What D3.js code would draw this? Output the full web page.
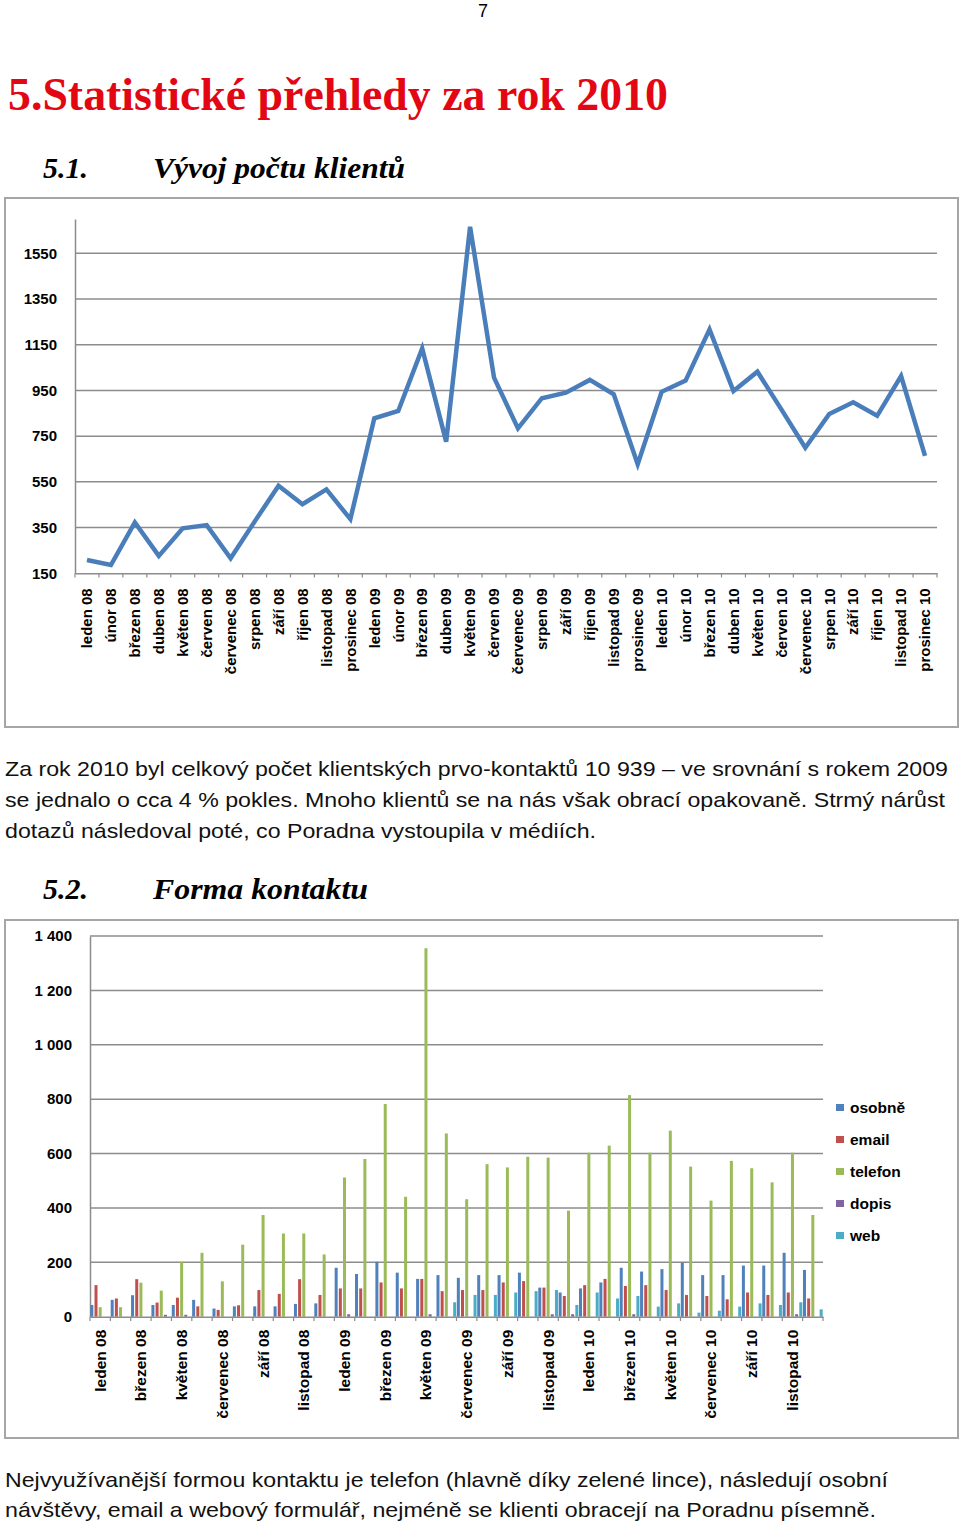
<!DOCTYPE html>
<html><head><meta charset="utf-8">
<script src="https://cdn.jsdelivr.net/npm/d3@7"></script>
<style>
html,body{margin:0;padding:0;background:#fff;}
svg{display:block;}
</style></head>
<body>
<svg id="page" width="960" height="1526"></svg>
<script>
// ---------- DATA ----------
const months = ["leden 08","únor 08","březen 08","duben 08","květen 08","červen 08","červenec 08","srpen 08","září 08","říjen 08","listopad 08","prosinec 08",
"leden 09","únor 09","březen 09","duben 09","květen 09","červen 09","červenec 09","srpen 09","září 09","říjen 09","listopad 09","prosinec 09",
"leden 10","únor 10","březen 10","duben 10","květen 10","červen 10","červenec 10","srpen 10","září 10","říjen 10","listopad 10","prosinec 10"];

const clients = [208,186,373,226,347,361,216,376,533,452,517,387,
828,860,1134,726,1666,1006,784,916,940,996,933,627,
944,993,1217,947,1032,867,699,847,898,839,1013,664];

const lineTicks = [150,350,550,750,950,1150,1350,1550];

const seriesNames = ["osobně","email","telefon","dopis","web"];
const osobne  = [43,62,79,43,43,62,30,38,38,38,47,49,180,157,202,162,139,153,143,153,153,162,107,89,104,126,180,166,175,199,153,153,188,188,235,172];
const email   = [116,67,138,52,70,38,25,42,98,84,138,80,104,104,126,104,139,94,98,98,126,131,107,76,116,139,113,116,98,80,76,64,89,80,89,67];
const telefon = [35,35,125,96,202,235,130,265,374,306,306,229,512,580,782,441,1355,674,432,561,549,588,585,390,603,629,815,603,684,552,427,573,546,494,603,374];
const dopis   = [0,0,0,7,7,0,0,0,0,0,0,0,9,0,0,0,9,0,0,0,0,0,9,9,0,0,9,0,0,0,0,0,0,0,9,0];
const web     = [0,0,0,0,0,0,0,0,0,0,0,0,0,0,0,0,0,53,80,80,89,94,98,43,89,67,76,37,49,15,22,37,49,43,53,27];
const barTicks = [0,200,400,600,800,1000,1200,1400];
const seriesColors = ["#4F81BD","#C0504D","#9BBB59","#8064A2","#4BACC6"];

// ---------- PAGE ----------
const svg = d3.select("#page");
const sans = "'Liberation Sans', Arial, sans-serif";
const serif = "'Liberation Serif', 'DejaVu Serif', serif";

svg.append("text").attr("x",483).attr("y",17).attr("text-anchor","middle")
  .attr("font-family",sans).attr("font-size",18).text("7");

svg.append("text").attr("x",8).attr("y",110).attr("font-family",serif)
  .attr("font-weight","bold").attr("font-size",46).attr("fill","#e30613")
  .attr("textLength",660).attr("lengthAdjust","spacingAndGlyphs")
  .text("5.Statistické přehledy za rok 2010");

function heading(num, label, y){
  svg.append("text").attr("x",43).attr("y",y).attr("font-family",serif)
    .attr("font-weight","bold").attr("font-style","italic").attr("font-size",30)
    .attr("textLength",45).attr("lengthAdjust","spacingAndGlyphs").text(num);
  return svg.append("text").attr("x",153).attr("y",y).attr("font-family",serif)
    .attr("font-weight","bold").attr("font-style","italic").attr("font-size",30)
    .text(label);
}
heading("5.1.","Vývoj počtu klientů",178).attr("textLength",252).attr("lengthAdjust","spacingAndGlyphs");
heading("5.2.","Forma kontaktu",899).attr("textLength",215).attr("lengthAdjust","spacingAndGlyphs");

function para(lines){
  lines.forEach(l=>{
    const t = svg.append("text").attr("x",5).attr("y",l.y).attr("font-family",sans)
      .attr("font-size",21).attr("fill","#111").text(l.t);
    if(l.w) t.attr("textLength",l.w).attr("lengthAdjust","spacingAndGlyphs");
  });
}
para([
 {t:"Za rok 2010 byl celkový počet klientských prvo-kontaktů 10 939 – ve srovnání s rokem 2009",y:776,w:943},
 {t:"se jednalo o cca 4 % pokles. Mnoho klientů se na nás však obrací opakovaně. Strmý nárůst",y:807,w:940},
 {t:"dotazů následoval poté, co Poradna vystoupila v médiích.",y:838,w:591}
]);
para([
 {t:"Nejvyužívanější formou kontaktu je telefon (hlavně díky zelené lince), následují osobní",y:1487,w:883},
 {t:"návštěvy, email a webový formulář, nejméně se klienti obracejí na Poradnu písemně.",y:1517,w:871}
]);

// ---------- CHART 1: line ----------
svg.append("rect").attr("x",5).attr("y",198).attr("width",953).attr("height",529)
  .attr("fill","none").attr("stroke","#a6a6a6").attr("stroke-width",2);

const g1 = svg.append("g");
const x1 = d3.scaleBand().domain(months).range([75,937]).padding(0);
const y1 = d3.scaleLinear().domain([150,1700]).range([573.3,219]);

g1.append("g").selectAll("line").data(lineTicks.slice(1)).join("line")
  .attr("x1",75).attr("x2",937).attr("y1",d=>y1(d)).attr("y2",d=>y1(d))
  .attr("stroke","#8c8c8c").attr("stroke-width",1.5);

const yAx1 = g1.append("g").attr("transform","translate(75,0)")
  .call(d3.axisLeft(y1).tickValues(lineTicks).tickSize(0).tickPadding(18).tickFormat(d3.format("d")));
yAx1.select(".domain").attr("stroke","#8c8c8c").attr("stroke-width",1.5);
yAx1.selectAll("text").attr("font-family",sans).attr("font-weight","bold")
  .attr("font-size",15).attr("fill","#000");

const xAx1 = g1.append("g").attr("transform","translate(0,573.3)")
  .call(d3.axisBottom(x1).tickSize(0).tickFormat(d=>d));
xAx1.select(".domain").attr("stroke","#8c8c8c").attr("stroke-width",1.5);
xAx1.selectAll("text").attr("font-family",sans).attr("font-weight","bold")
  .attr("font-size",15).attr("fill","#000")
  .attr("transform","rotate(-90)").attr("text-anchor","end")
  .attr("x",-15).attr("y",0).attr("dy","0.35em");
g1.append("g").selectAll("line").data(months.concat(["end"])).join("line")
  .attr("x1",(d,i)=>75+i*x1.step()).attr("x2",(d,i)=>75+i*x1.step())
  .attr("y1",573.3).attr("y2",577.5).attr("stroke","#8c8c8c").attr("stroke-width",1.2);

const line = d3.line().x((d,i)=>x1(months[i])+x1.bandwidth()/2).y(d=>y1(d));
g1.append("path").datum(clients).attr("d",line).attr("fill","none")
  .attr("stroke","#4A7EBB").attr("stroke-width",4.5).attr("stroke-linejoin","miter");

// ---------- CHART 2: grouped bars ----------
svg.append("rect").attr("x",5).attr("y",920).attr("width",953).attr("height",518)
  .attr("fill","none").attr("stroke","#a6a6a6").attr("stroke-width",2);

const g2 = svg.append("g");
const x0 = d3.scaleBand().domain(months).range([90,823]).padding(0);
const xs = d3.scaleBand().domain(seriesNames).range([0,x0.bandwidth()]).paddingInner(0.28).paddingOuter(0.08);
const y2 = d3.scaleLinear().domain([0,1400]).range([1316.7,936]);
const fmt = d3.formatLocale({decimal:",",thousands:" ",grouping:[3],currency:["",""]}).format(",");

g2.append("g").selectAll("line").data(barTicks.slice(1)).join("line")
  .attr("x1",90).attr("x2",823).attr("y1",d=>y2(d)).attr("y2",d=>y2(d))
  .attr("stroke","#8c8c8c").attr("stroke-width",1.5);

const yAx2 = g2.append("g").attr("transform","translate(90,0)")
  .call(d3.axisLeft(y2).tickValues(barTicks).tickSize(0).tickPadding(18).tickFormat(fmt));
yAx2.select(".domain").attr("stroke","#8c8c8c").attr("stroke-width",1.5);
yAx2.selectAll("text").attr("font-family",sans).attr("font-weight","bold")
  .attr("font-size",15).attr("fill","#000");

const seriesData = [osobne,email,telefon,dopis,web];
const groups = g2.append("g").selectAll("g").data(months).join("g")
  .attr("transform",d=>`translate(${x0(d)},0)`);
groups.selectAll("rect").data((m,i)=>seriesNames.map((s,k)=>({s,k,v:seriesData[k][i]})))
  .join("rect")
  .attr("x",d=>xs(d.s)).attr("width",xs.bandwidth())
  .attr("y",d=>y2(d.v)).attr("height",d=>y2(0)-y2(d.v))
  .attr("fill",d=>seriesColors[d.k]);

const xAx2 = g2.append("g").attr("transform","translate(0,1316.7)")
  .call(d3.axisBottom(x0).tickSize(0).tickFormat((d,i)=> i%2===0 ? d : ""));
xAx2.select(".domain").attr("stroke","#8c8c8c").attr("stroke-width",1.5);
xAx2.selectAll("text").attr("font-family",sans).attr("font-weight","bold")
  .attr("font-size",15.5).attr("fill","#000")
  .attr("transform","rotate(-90)").attr("text-anchor","end")
  .attr("x",-13).attr("y",0).attr("dy","0.35em");
g2.append("g").selectAll("line").data(months.concat(["end"])).join("line")
  .attr("x1",(d,i)=>90+i*x0.step()).attr("x2",(d,i)=>90+i*x0.step())
  .attr("y1",1316.7).attr("y2",1321).attr("stroke","#8c8c8c").attr("stroke-width",1.2);

// legend
const leg = g2.append("g").selectAll("g").data(seriesNames).join("g")
  .attr("transform",(d,i)=>`translate(836,${1108+i*32})`);
leg.append("rect").attr("x",0).attr("y",-4).attr("width",8).attr("height",7)
  .attr("fill",(d,i)=>seriesColors[i]);
leg.append("text").attr("x",14).attr("y",0).attr("dy","0.35em")
  .attr("font-family",sans).attr("font-weight","bold").attr("font-size",15.5).text(d=>d);
</script>
</body></html>
